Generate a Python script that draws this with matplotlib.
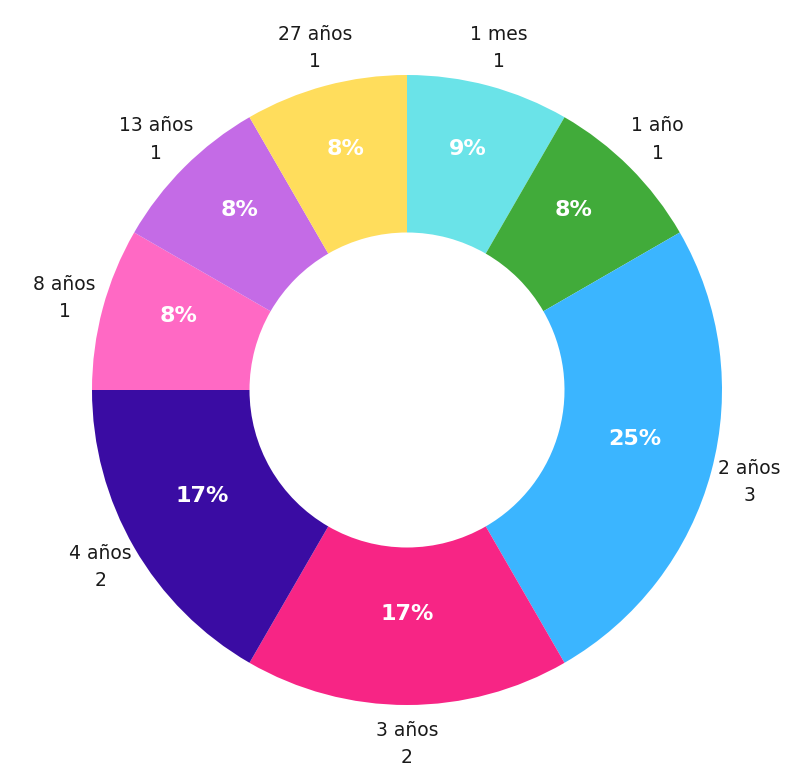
import numpy as np
import matplotlib.pyplot as plt

categories = ["1 mes", "1 año", "2 años", "3 años", "4 años", "8 años", "13 años", "27 años"]
counts = [1, 1, 3, 2, 2, 1, 1, 1]
pct_labels = ["9%", "8%", "25%", "17%", "17%", "8%", "8%", "8%"]
colors = ["#6AE3E8", "#41AB3A", "#3BB5FF", "#F72585", "#3A0CA3", "#FF69C4", "#C46BE6", "#FFDD5C"]

plt.rcParams['font.family'] = ['DejaVu Sans']

fig = plt.figure(figsize=(8.03, 7.67), dpi=100)
ax = fig.add_axes([0, 0, 1, 1])
R = 315.0
cx, cy = 407, 390

outer = [f"{c}\n{n}" for c, n in zip(categories, counts)]
wedges, texts = ax.pie(counts, colors=colors, startangle=90, counterclock=False,
                       radius=1.0, labels=outer, labeldistance=1.125,
                       wedgeprops=dict(width=0.5, edgecolor='none'),
                       textprops=dict(fontsize=13.5, color='#1a1a1a'))
ax.set_xlim(-cx / R, (803 - cx) / R)
ax.set_ylim(-(767 - cy) / R, cy / R)
ax.set_aspect('equal')
ax.axis('off')
for t in texts:
    t.set_ha('center')
    t.set_va('center')
    t.set_linespacing(1.55)

for w, p in zip(wedges, pct_labels):
    ang = np.deg2rad((w.theta1 + w.theta2) / 2)
    r = 0.75
    ax.text(r * np.cos(ang), r * np.sin(ang) + 0.04, p, ha='center', va='center',
            fontsize=16, fontweight='bold', color='white')

fig.savefig("out.png", dpi=100)
